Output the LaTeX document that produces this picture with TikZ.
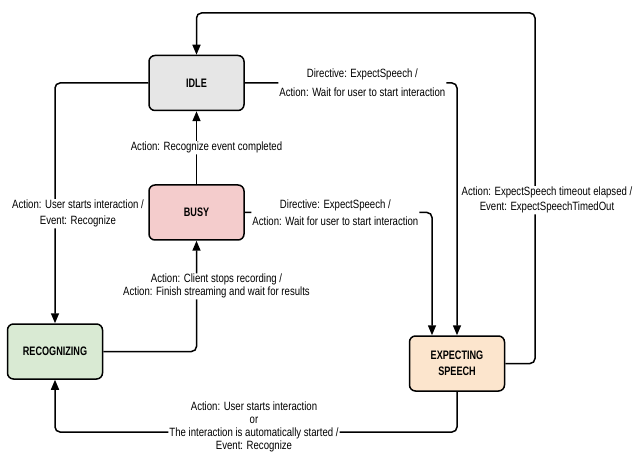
\documentclass[tikz,border=0pt]{standalone}
\usepackage{fontspec}
\setmainfont{Liberation Sans}[FakeStretch=0.8]
\newfontfamily\statefont{Liberation Sans}[FakeStretch=0.74]
\usepackage{xcolor}
\usetikzlibrary{arrows.meta}

\definecolor{idlegray}{HTML}{E6E6E6}
\definecolor{busypink}{HTML}{F4CCCC}
\definecolor{recgreen}{HTML}{D9EAD3}
\definecolor{exppeach}{HTML}{FCE5CD}

\begin{document}
\begin{tikzpicture}[x=1pt,y=-1pt,
    state/.style={draw, line width=1.5pt, rounded corners=6pt, minimum width=95pt, minimum height=55pt, align=center, font=\statefont\bfseries\fontsize{12.3}{16}\selectfont},
    arr/.style={-{Triangle[length=10pt,width=8pt]}, line width=1.5pt, rounded corners=5pt},
    lbl/.style={fill=white, inner sep=1pt, align=center, font=\fontsize{12}{13}\selectfont}]
    \useasboundingbox (0,0) rectangle (634,470);

    % States
    \node[state, fill=idlegray] (idle) at (196.5,83) {IDLE};
    \node[state, fill=busypink] (busy) at (196.5,212.5) {BUSY};
    \node[state, fill=recgreen] (rec) at (55,351.5) {RECOGNIZING};
    \node[state, fill=exppeach] (exp) at (457,363.5) {EXPECTING\\SPEECH};

    % Idle to recognizing
    \draw[arr] (idle.west) -| node[lbl, pos=0.772, xshift=23] (lblstart) {Action: User starts interaction /\\[3pt]Event: Recognize} (rec.north);

    % Busy back to idle
    \draw[arr] (busy.north) -- node[lbl, xshift=10] (lbldone) {Action: Recognize event completed} (idle.south);

    % Recognizing to busy
    \draw[arr] (rec.east) -| node[lbl, pos=0.794, xshift=20] (lblstop) {Action: Client stops recording /\\Action: Finish streaming and wait for results} (busy.south);

    % Idle and busy to expecting speech
    \draw[arr] (idle.east) -| node[lbl, pos=0.277] (lblwait) {Directive: ExpectSpeech /\\[6pt]Action: Wait for user to start interaction} (exp.north);
    \draw[arr] (busy.east) -| node[lbl, pos=0.242] (lblwaitb) {Directive: ExpectSpeech /\\[4pt]Action: Wait for user to start interaction} ([xshift=-25pt]exp.north);

    % Timeout, back to idle
    \coordinate (ret) at (535,13);
    \draw[arr] (exp.east) -| node[lbl, pos=0.733, xshift=12] (lbltimeout) {Action: ExpectSpeech timeout elapsed /\\[2pt]Event: ExpectSpeechTimedOut} (ret) -| (idle.north);

    % Expecting speech to recognizing
    \coordinate (low) at (254,432);
    \draw[arr] (exp.south) |- (low) node[lbl, yshift=5] (lblauto) {Action: User starts interaction\\or\\The interaction is automatically started /\\Event: Recognize} -| (rec.south);
\end{tikzpicture}
\end{document}
